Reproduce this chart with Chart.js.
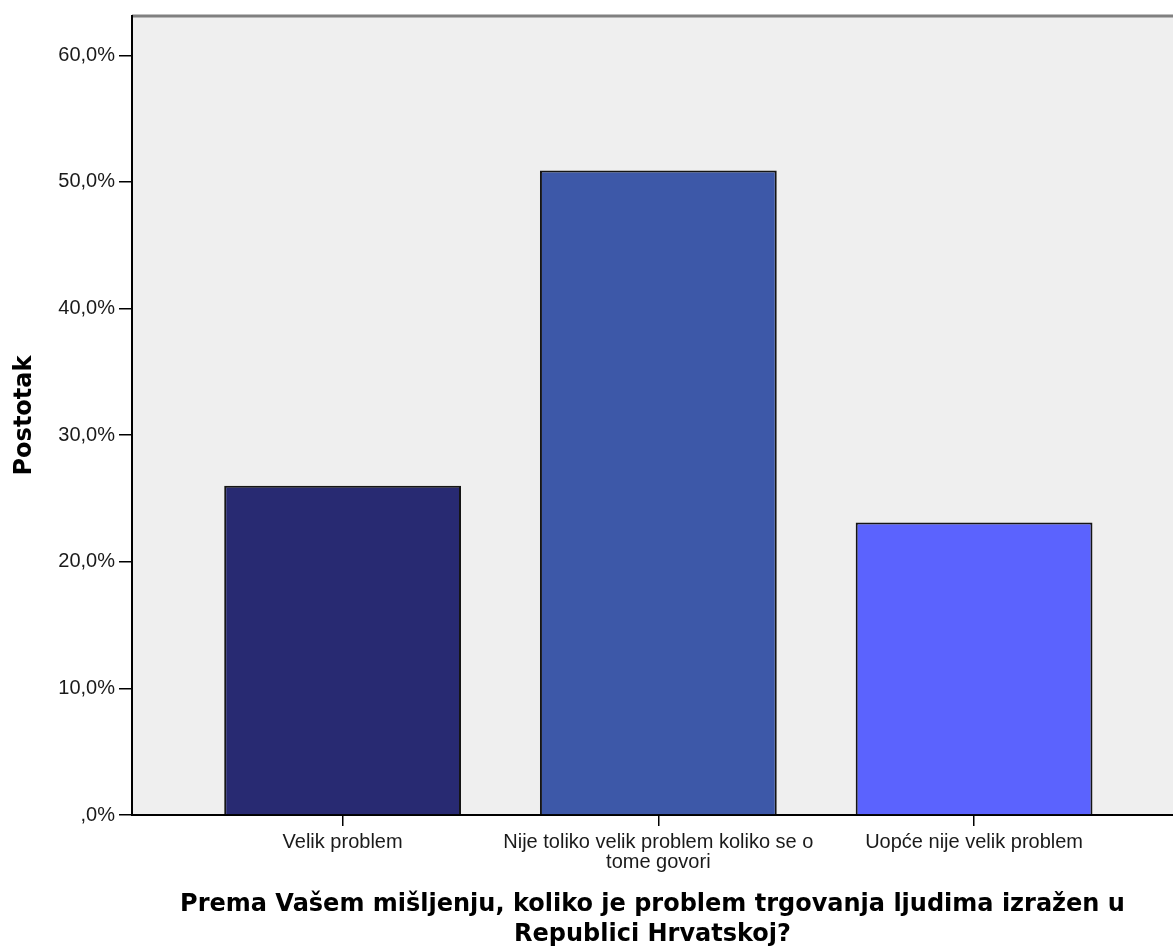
<!DOCTYPE html>
<html>
<head>
<meta charset="utf-8">
<script src="https://cdn.jsdelivr.net/npm/chart.js@4"></script>
<style>
  html, body { margin: 0; padding: 0; background: #fff; }
  #chart { display: block; }
</style>
</head>
<body>
<canvas id="chart" width="1173" height="951"></canvas>
<script>
// Data
const categories = [
    'Velik problem',
    ['Nije toliko velik problem koliko se o', 'tome govori'],
    'Uopće nije velik problem'
];
const percentages = [26.0, 50.9, 23.1];
const barColors = ['#282a72', '#3d58a8', '#5b63fe'];
const yTicks = [0, 10, 20, 30, 40, 50, 60];
const xTitle = ['Prema Vašem mišljenju, koliko je problem trgovanja ljudima izražen u', 'Republici Hrvatskoj?'];
const yTitle = 'Postotak';

// grey plot background + grey top frame line
const plotFrame = {
    id: 'plotFrame',
    beforeDraw(chart) {
        const { ctx, chartArea: a } = chart;
        ctx.save();
        ctx.fillStyle = '#efefef';
        ctx.fillRect(a.left, a.top, a.right - a.left, a.bottom - a.top);
        ctx.strokeStyle = '#808080';
        ctx.lineWidth = 3;
        ctx.beginPath();
        ctx.moveTo(a.left, a.top);
        ctx.lineTo(a.right, a.top);
        ctx.stroke();
        ctx.restore();
    }
};

const formatPct = (v) => v === 0 ? ',0%' : v.toFixed(1).replace('.', ',') + '%';

const tickFont = { family: '"Liberation Sans", Arial, sans-serif', size: 20 };
const titleFont = { family: '"DejaVu Sans", Verdana, sans-serif', size: 24, weight: 'bold' };

new Chart(document.getElementById('chart'), {
    type: 'bar',
    data: {
        datasets: [{
            data: categories.map((c, i) => ({ x: i, y: percentages[i] })),
            backgroundColor: barColors,
            borderColor: '#151515',
            borderWidth: 2,
            barPercentage: 0.75,
            categoryPercentage: 1
        }]
    },
    options: {
        responsive: false,
        animation: false,
        devicePixelRatio: 1,
        layout: { padding: { top: 15, left: 0, right: 0, bottom: 0 } },
        plugins: { legend: { display: false }, tooltip: { enabled: false } },
        scales: {
            x: {
                type: 'linear',
                min: -0.667,
                max: 2.63,
                offset: false,
                afterFit: (s) => { s.height = 136; },
                afterBuildTicks: (s) => { s.ticks = categories.map((c, i) => ({ value: i })); },
                grid: { display: true, offset: false, drawOnChartArea: false, drawTicks: true, tickLength: 11, color: '#000', lineWidth: 1.5 },
                border: { display: true, color: '#000', width: 2 },
                ticks: {
                    autoSkip: false,
                    maxRotation: 0,
                    padding: 6,
                    color: '#1a1a1a',
                    font: { ...tickFont, lineHeight: 1.0 },
                    callback: (v) => categories[v]
                },
                title: {
                    display: true,
                    text: xTitle,
                    color: '#000',
                    font: { ...titleFont, lineHeight: '30px' },
                    padding: { top: 0, bottom: 1 }
                }
            },
            y: {
                min: 0,
                max: 63.1,
                afterFit: (s) => { s.width = 132; },
                afterBuildTicks: (s) => { s.ticks = yTicks.map(v => ({ value: v })); },
                grid: { display: true, drawOnChartArea: false, drawTicks: true, tickLength: 13, color: '#000', lineWidth: 1.5 },
                border: { display: true, color: '#000', width: 2 },
                ticks: {
                    padding: 4,
                    color: '#1a1a1a',
                    font: tickFont,
                    callback: (v) => formatPct(v)
                },
                title: {
                    display: true,
                    text: yTitle,
                    color: '#000',
                    font: { ...titleFont, size: 24, lineHeight: 1.0 },
                    padding: { top: 13, bottom: 0 }
                }
            }
        }
    },
    plugins: [plotFrame]
});
</script>
</body>
</html>
